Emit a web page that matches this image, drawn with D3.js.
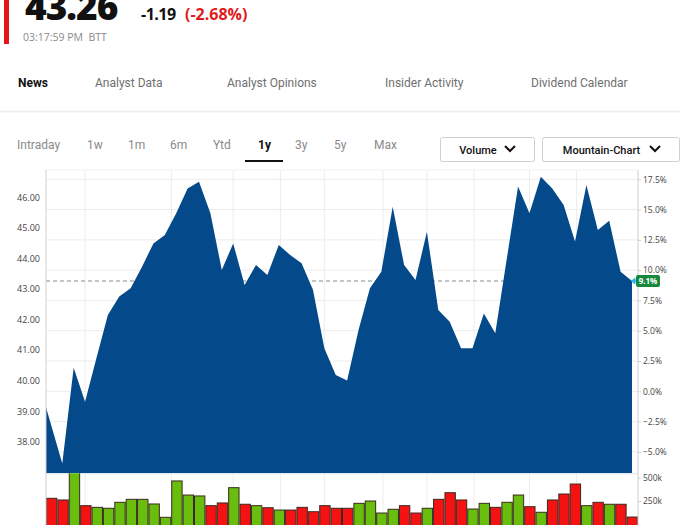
<!DOCTYPE html>
<html><head><meta charset="utf-8">
<script src="https://cdn.jsdelivr.net/npm/d3@7"></script>
<style>
html,body{margin:0;padding:0;background:#fff;overflow:hidden;}
svg{display:block;}
</style></head>
<body>
<svg id="c" width="700" height="525"></svg>
<script>
// ---- data ----
const lastPrice = 43.26, change = "-1.19", changePct = "(-2.68%)";
const basePrice = 39.65;
const tabs = ["News","Analyst Data","Analyst Opinions","Insider Activity","Dividend Calendar"];
const ranges = ["Intraday","1w","1m","6m","Ytd","1y","3y","5y","Max"];
const prices = [39.13,37.29,40.42,39.31,40.74,42.15,42.75,43.02,43.73,44.49,44.77,45.48,46.29,46.51,45.48,43.62,44.49,43.13,43.78,43.46,44.44,44.11,43.84,42.97,41.06,40.18,40.00,41.66,43.02,43.56,45.69,43.78,43.29,44.87,42.31,41.93,41.06,41.06,42.20,41.55,43.96,46.35,45.48,46.67,46.29,45.75,44.55,46.40,44.93,45.23,43.56,43.26];
const volumes = [279,261,560,200,182,172,236,268,268,218,75,465,314,304,200,229,393,215,200,178,153,153,182,135,200,172,172,225,250,121,161,200,121,172,268,339,261,164,225,182,236,314,189,129,261,325,432,200,236,215,215,78].map(v=>v*1000);
const volDir = "DDUDUUUUUUUUUUDDUDUDUDDDDDDUUUUDDUDDDUUDUUDUDDDUDUDD".split("");
const priceTicks = [38,39,40,41,42,43,44,45,46];
const pctTicks = [-5,-2.5,0,2.5,5,7.5,10,12.5,15,17.5];
const volTicks = [250000,500000];
const gridDates = ["2023-04-14","2023-06-06","2023-07-14","2023-08-12","2023-09-08","2023-10-14","2023-11-10","2023-12-09","2024-01-12","2024-02-10"].map(d=>new Date(d+"T00:00:00"));
const firstDate = new Date("2023-03-21T00:00:00");
const weekStart = new Date("2023-03-31T00:00:00");
const dates = [firstDate].concat(d3.range(51).map(i=>d3.timeDay.offset(weekStart,7*i)));

// ---- layout ----
const svg = d3.select("#c");
const L = 46, R = 638, lastX = 632, pTop = 170, pBottom = 473.3, vBottom = 524.3;
const fontUI = "Roboto, 'Open Sans', sans-serif";
const fontNum = "'Open Sans', sans-serif";

// header
svg.append("rect").attr("x",4).attr("y",0).attr("width",5).attr("height",44).attr("fill","#e4151d");
svg.append("text").attr("x",25).attr("y",20).attr("font-family",fontNum).attr("font-weight",800)
  .attr("font-size",37).attr("fill","#111").attr("letter-spacing","-1").text(lastPrice.toFixed(2));
svg.append("text").attr("x",141).attr("y",20).attr("font-family",fontNum).attr("font-weight",700)
  .attr("font-size",16).attr("fill","#111").attr("letter-spacing","-0.5").text(change);
svg.append("text").attr("x",185).attr("y",20).attr("font-family",fontNum).attr("font-weight",700)
  .attr("font-size",16).attr("fill","#e01b1b").text(changePct);
svg.append("text").attr("x",23).attr("y",41).attr("font-family",fontNum)
  .attr("font-size",10.5).attr("fill","#8a8a8a").attr("xml:space","preserve").text("03:17:59 PM  BTT");

// tabs
const tabX = [18,95,227,385,531];
tabs.forEach((t,i)=>{
  svg.append("text").attr("x",tabX[i]).attr("y",87).attr("font-family",fontUI)
    .attr("font-size",12).attr("font-weight",i===0?700:400).attr("fill",i===0?"#111":"#6f6f6f").text(t);
});
svg.append("line").attr("x1",0).attr("x2",680).attr("y1",111.5).attr("y2",111.5).attr("stroke","#f0f0f0").attr("stroke-width",2);

// range selector
const rangeX = [17,87,128,170,213,258,295,334,374];
ranges.forEach((t,i)=>{
  svg.append("text").attr("x",rangeX[i]).attr("y",149).attr("font-family",fontUI)
    .attr("font-size",12).attr("font-weight",t==="1y"?700:400).attr("fill",t==="1y"?"#111":"#8a8a8a").text(t);
});
svg.append("rect").attr("x",245).attr("y",160).attr("width",38).attr("height",2).attr("fill","#111");
function button(x0,w,label){
  svg.append("rect").attr("x",x0+0.5).attr("y",137.5).attr("width",w).attr("height",24).attr("rx",2)
    .attr("fill","#fff").attr("stroke","#cfcfcf");
  svg.append("text").attr("x",x0+w/2-9).attr("y",153.5).attr("text-anchor","middle")
    .attr("font-family",fontUI).attr("font-size",11).attr("font-weight",500).attr("fill","#111").text(label);
  const cx = x0+w-24;
  svg.append("path").attr("d",`M${cx-5},146 L${cx},151 L${cx+5},146`).attr("fill","none")
    .attr("stroke","#111").attr("stroke-width",2);
}
button(440,94,"Volume");
button(542,137,"Mountain-Chart");

// scales
const x = d3.scaleTime().domain([dates[0],dates[dates.length-1]]).range([L,lastX]);
const y = d3.scaleLinear().domain([38,46]).range([441.7,197.3]);
const pct = p => (p/basePrice-1)*100;
const yPct = d3.scaleLinear().domain([pct(38),pct(46)]).range([441.7,197.3]);
const xb = d3.scaleBand().domain(d3.range(volumes.length)).range([L,R]).padding(0);
const yv = d3.scaleLinear().domain([0,500000]).range([vBottom,477.7]);

// grid
const grid = svg.append("g");
grid.selectAll("line.h").data(pctTicks).join("line")
  .attr("x1",L).attr("x2",R).attr("y1",d=>yPct(d)).attr("y2",d=>yPct(d))
  .attr("stroke","#ececec").attr("stroke-width",1);
grid.append("line").attr("x1",L).attr("x2",R).attr("y1",pTop).attr("y2",pTop).attr("stroke","#efefef");
grid.selectAll("line.v").data(gridDates).join("line")
  .attr("x1",d=>x(d)).attr("x2",d=>x(d)).attr("y1",pTop).attr("y2",525)
  .attr("stroke","#ececec").attr("stroke-width",1);

// dashed last price line
svg.append("line").attr("x1",L).attr("x2",lastX).attr("y1",y(lastPrice)).attr("y2",y(lastPrice))
  .attr("stroke","#7f8c8d").attr("stroke-dasharray","4,3").attr("stroke-width",1);

// clip
svg.append("clipPath").attr("id","pclip").append("rect").attr("x",L).attr("y",pTop).attr("width",R-L).attr("height",pBottom-pTop);
svg.append("clipPath").attr("id","vclip").append("rect").attr("x",L).attr("y",pBottom).attr("width",R-L).attr("height",525-pBottom);

// area
const area = d3.area().x((d,i)=>x(dates[i])).y0(pBottom).y1(d=>y(d));
svg.append("path").datum(prices).attr("d",area).attr("fill","#044a8b").attr("clip-path","url(#pclip)");

// panel separator
svg.append("line").attr("x1",L).attr("x2",R).attr("y1",pBottom+0.5).attr("y2",pBottom+0.5).attr("stroke","#dfe6ee");

// volume bars
svg.append("g").attr("clip-path","url(#vclip)").selectAll("rect").data(volumes).join("rect")
  .attr("x",(d,i)=>xb(i)+0.5).attr("width",xb.bandwidth()-1)
  .attr("y",d=>yv(d)).attr("height",d=>vBottom+2-yv(d))
  .attr("fill",(d,i)=>volDir[i]==="U"?"#69bd0c":"#f51212")
  .attr("stroke","#3a2a20").attr("stroke-width",1);

// axes lines
svg.append("line").attr("x1",L).attr("x2",L).attr("y1",pTop).attr("y2",525).attr("stroke","#cfcfcf");
svg.append("line").attr("x1",R).attr("x2",R).attr("y1",pTop).attr("y2",525).attr("stroke","#cfcfcf");

// left axis labels
const lax = svg.append("g").attr("transform",`translate(${L},0)`)
  .call(d3.axisLeft(y).tickValues(priceTicks).tickFormat(d3.format(".2f")).tickSize(0).tickPadding(6));
lax.select(".domain").remove();
lax.selectAll("text").attr("font-family",fontNum).attr("font-size",9).attr("fill","#444");

// right axis labels
const rax = svg.append("g").attr("transform",`translate(${R},0)`)
  .call(d3.axisRight(yPct).tickValues(pctTicks).tickFormat(d=>d3.format(".1f")(d)+"%").tickSize(3).tickPadding(2));
rax.select(".domain").remove();
rax.selectAll("line").attr("stroke","#cfcfcf");
rax.selectAll("text").attr("font-family",fontNum).attr("font-size",8.5).attr("fill","#444");

const vax = svg.append("g").attr("transform",`translate(${R},0)`)
  .call(d3.axisRight(yv).tickValues(volTicks).tickFormat(d=>(d/1000)+"k").tickSize(3).tickPadding(2));
vax.select(".domain").remove();
vax.selectAll("line").attr("stroke","#cfcfcf");
vax.selectAll("text").attr("font-family",fontNum).attr("font-size",8.5).attr("fill","#444");

// last value marker & badge
const ly = yPct(pct(lastPrice));
svg.append("path").attr("d",`M${lastX-1},${ly} L${lastX+3},${ly-3.5} L${lastX+4},${ly} L${lastX+3},${ly+3.5} Z`).attr("fill","#27b4e6");
svg.append("rect").attr("x",R-2).attr("y",ly-6).attr("width",24).attr("height",12).attr("rx",2).attr("fill","#17883d");
svg.append("text").attr("x",R+10).attr("y",ly+3).attr("text-anchor","middle").attr("font-family",fontNum)
  .attr("font-size",8).attr("font-weight",700).attr("fill","#fff").text(d3.format(".1f")(pct(lastPrice))+"%");
</script>
</body></html>
